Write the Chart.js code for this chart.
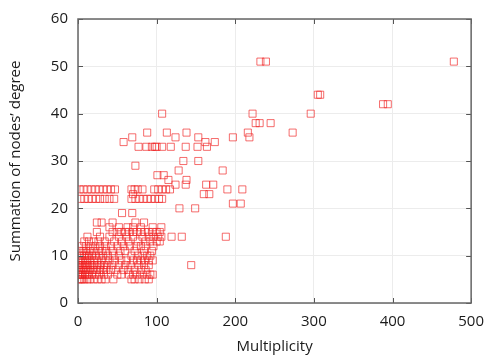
<!DOCTYPE html>
<html>
<head>
<meta charset="utf-8">
<script src="https://cdn.jsdelivr.net/npm/chart.js@4/dist/chart.umd.min.js"></script>
<style>
  html, body { margin: 0; padding: 0; background: #fff; }
  #wrap { width: 494px; height: 356px; }
</style>
</head>
<body>
<div id="wrap"><canvas id="scatterChart"></canvas></div>
<script>
// Each row: a degree value (y) and the multiplicities (x)
const degreeRows = [5, 6, 7, 8, 9, 10, 11, 12, 13, 14, 15, 16, 17, 19, 20, 21, 22, 23, 24, 25, 26, 27, 28, 29, 30, 33, 34, 35, 36, 38, 40, 42, 44, 51];
const multiplicityRows = [
    [1, 3, 5, 8, 12, 15, 20, 25, 30, 35, 45, 68, 72, 78, 85, 90],
    [0, 2, 4, 6, 9, 11, 14, 18, 22, 27, 33, 38, 50, 55, 65, 70, 75, 82, 88, 92, 95],
    [1, 3, 6, 8, 10, 13, 16, 20, 24, 28, 32, 36, 42, 48, 58, 64, 72, 80, 86],
    [0, 2, 5, 7, 10, 12, 15, 18, 21, 25, 29, 33, 37, 44, 52, 60, 67, 77, 84, 90, 144],
    [1, 4, 6, 9, 12, 16, 20, 24, 30, 35, 40, 47, 55, 62, 70, 75, 80, 85, 90, 95],
    [2, 5, 8, 11, 14, 18, 22, 27, 32, 38, 45, 52, 68, 76, 82, 88, 92],
    [3, 7, 10, 15, 20, 26, 31, 36, 44, 54, 60, 72, 84, 94],
    [5, 10, 16, 22, 28, 35, 42, 50, 58, 66, 74, 80, 86, 96],
    [8, 14, 20, 26, 34, 46, 56, 64, 76, 86, 92, 100, 104],
    [12, 28, 40, 52, 62, 70, 82, 90, 96, 102, 106, 119, 132, 188],
    [24, 44, 50, 55, 60, 65, 70, 75, 80, 85, 90, 95, 100, 104],
    [40, 52, 63, 70, 80, 95, 106],
    [24, 30, 44, 73, 84],
    [56, 69],
    [129, 149],
    [197, 207],
    [3, 8, 13, 18, 23, 28, 34, 40, 46, 68, 73, 78, 83, 88, 93, 98, 103, 107],
    [70, 160, 167],
    [2, 7, 12, 17, 22, 27, 32, 37, 42, 47, 68, 72, 76, 82, 97, 102, 107, 112, 117, 190, 209],
    [124, 137, 163, 172],
    [115, 138],
    [101, 109],
    [128, 184],
    [73],
    [134, 153],
    [77, 87, 94, 98, 100, 107, 118, 137, 152, 164],
    [58, 162, 174],
    [69, 124, 153, 197, 218],
    [88, 113, 138, 216, 273],
    [226, 231, 245],
    [107, 222, 296],
    [388, 394],
    [305, 308],
    [232, 239, 478]
];
const xTicks = [0, 100, 200, 300, 400, 500];
const yTicks = [0, 10, 20, 30, 40, 50, 60];

const points = [];
degreeRows.forEach(function (deg, i) {
    multiplicityRows[i].forEach(function (m) {
        points.push({ x: m, y: deg });
    });
});

const FONT = '"Open Sans", "Noto Sans", sans-serif';

// inward tick marks and the frame round the plot
const framePlugin = {
    id: 'frame',
    afterDraw: function (chart) {
        const ctx = chart.ctx;
        const a = chart.chartArea;
        const xs = chart.scales.x;
        const ys = chart.scales.y;
        ctx.save();
        ctx.strokeStyle = '#555';
        ctx.lineWidth = 1;
        xTicks.forEach(function (v) {
            const px = Math.round(xs.getPixelForValue(v)) + 0.5;
            ctx.beginPath();
            ctx.moveTo(px, a.bottom); ctx.lineTo(px, a.bottom - 5);
            ctx.moveTo(px, a.top); ctx.lineTo(px, a.top + 5);
            ctx.stroke();
        });
        yTicks.forEach(function (v) {
            const py = Math.round(ys.getPixelForValue(v)) + 0.5;
            ctx.beginPath();
            ctx.moveTo(a.left, py); ctx.lineTo(a.left + 5, py);
            ctx.moveTo(a.right, py); ctx.lineTo(a.right - 5, py);
            ctx.stroke();
        });
        ctx.lineWidth = 1.5;
        ctx.strokeStyle = '#666';
        ctx.strokeRect(a.left, a.top, a.right - a.left, a.bottom - a.top);
        ctx.restore();
    }
};

const ctx = document.getElementById('scatterChart').getContext('2d');
new Chart(ctx, {
    type: 'scatter',
    data: {
        datasets: [{
            data: points,
            pointStyle: 'rect',
            pointRadius: 5,
            pointHoverRadius: 5,
            borderWidth: 1,
            borderColor: 'rgba(240, 30, 30, 0.65)',
            backgroundColor: 'rgba(0, 0, 0, 0)'
        }]
    },
    plugins: [framePlugin],
    options: {
        responsive: true,
        maintainAspectRatio: false,
        animation: false,
        layout: { padding: { top: 16, right: 17, left: 0, bottom: 0 } },
        plugins: {
            legend: { display: false },
            tooltip: { enabled: false }
        },
        scales: {
            x: {
                type: 'linear',
                min: 0,
                max: 500,
                afterFit: function (scale) { scale.height = 53; },
                afterBuildTicks: function (scale) {
                    scale.ticks = xTicks.map(v => ({ value: v }));
                },
                border: { display: false },
                grid: { color: '#ececec', drawTicks: false },
                ticks: {
                    padding: 10,
                    color: '#1a1a1a',
                    font: { family: FONT, size: 15 }
                },
                title: {
                    display: true,
                    text: 'Multiplicity',
                    color: '#1a1a1a',
                    padding: { top: 2, bottom: 0 },
                    font: { family: FONT, size: 15 }
                }
            },
            y: {
                type: 'linear',
                min: 0,
                max: 60,
                afterFit: function (scale) { scale.width = 78; },
                afterBuildTicks: function (scale) {
                    scale.ticks = yTicks.map(v => ({ value: v }));
                },
                border: { display: false },
                grid: { color: '#ececec', drawTicks: false },
                ticks: {
                    padding: 10,
                    color: '#1a1a1a',
                    font: { family: FONT, size: 15 }
                },
                title: {
                    display: true,
                    text: 'Summation of nodes’ degree',
                    color: '#1a1a1a',
                    padding: { top: 7, bottom: 0 },
                    font: { family: FONT, size: 15 }
                }
            }
        }
    }
});
</script>
</body>
</html>
